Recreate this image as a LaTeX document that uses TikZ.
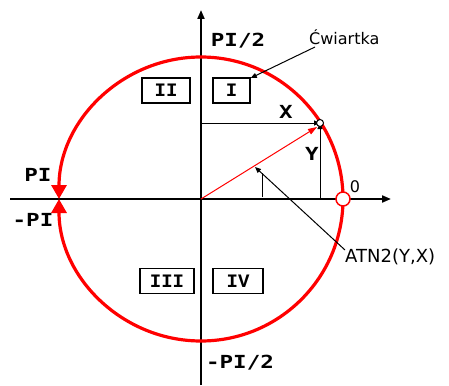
\documentclass[tikz,border=0pt]{standalone}
\usepackage{fontspec}
\usetikzlibrary{arrows.meta}
\setmainfont{DejaVu Sans}
\newfontfamily\lblfont[FakeStretch=1.25]{DejaVu Sans Mono Bold}
\newfontfamily\boxfont{Liberation Mono Bold}
\definecolor{cred}{RGB}{255,0,0}
\begin{document}
\begin{tikzpicture}[x=1pt,y=1pt,
  axis/.style={line width=2pt,-{Triangle[length=9pt,width=7pt]}},
  redarc/.style={cred,line width=3.2pt,-{Triangle[length=14pt,width=15pt]}},
  qbox/.style={draw,line width=1.4pt,minimum width=48pt,minimum height=25pt,inner sep=0pt,font=\boxfont\fontsize{19}{19}\selectfont},
  biglbl/.style={font=\lblfont\fontsize{18}{18}\selectfont,inner sep=0pt},
  thin/.style={line width=1pt},
  smalltip/.style={-{Triangle[length=6pt,width=5pt]}}]
\useasboundingbox (0,0) rectangle (449,-385);
\fill[white] (0,0) rectangle (449,-385);
% axes
\coordinate (O) at (201,-199);
\coordinate (xl) at (10,-199);
\coordinate (xr) at (391,-199);
\coordinate (yb) at (201,-385);
\coordinate (yt) at (201,-10);
\draw[axis] (xl) -- (xr);
\draw[axis] (yb) -- (yt);
% red circle arcs
\coordinate (zero) at (343,-199);
\draw[redarc] (zero) arc[start angle=0,end angle=180,radius=142];
\draw[redarc] (zero) arc[start angle=0,end angle=-180,radius=142];
\node[circle,draw=cred,fill=white,line width=1.5pt,minimum size=14pt,inner sep=0pt] (zc) at (zero) {};
% point on circle
\coordinate (P) at (320,-123);
\coordinate (Px) at (201,-123);
\coordinate (Py) at (320,-199);
\draw[thin,smalltip] (Px) -- (P);
\draw[thin,smalltip] (Py) -- (P);
\draw[cred,line width=1pt,-{Triangle[length=9pt,width=6pt]}] (O) -- (317,-127);
\node[circle,draw,fill=white,line width=1pt,minimum size=7pt,inner sep=0pt] (pt) at (P) {};
% angle mark
\coordinate (am1) at (262,-197);
\coordinate (am2) at (262,-173);
\draw[thin] (am1) -- (am2);
% boxes
\node[qbox] (b2) at (166,-90.5) {II};
\node[qbox,minimum width=37pt] (b1) at (231.5,-90.5) {I};
\node[qbox,minimum width=54pt] (b3) at (167,-281) {III};
\node[qbox,minimum width=50pt] (b4) at (238,-281) {IV};
% labels
\node[biglbl] (pi2) at (238,-41) {PI/2};
\node[biglbl] (pi) at (38,-175) {PI};
\node[biglbl] (mpi) at (33,-220) {-PI};
\node[biglbl] (mpi2) at (240,-363) {-PI/2};
\node[biglbl] (lx) at (286,-112) {X};
\node[biglbl] (ly) at (312,-154) {Y};
\node[font=\fontsize{16}{16}\selectfont,inner sep=0pt] (l0) at (355,-187) {0};
\node[font=\fontsize{16}{16}\selectfont,inner sep=0pt,anchor=west] (cw) at (309,-37) {Ćwiartka};
\node[font=\fontsize{18}{18}\selectfont,inner sep=0pt,anchor=west] (atn) at (345,-257) {ATN2(Y,X)};
% leaders
\coordinate (cwend) at (315,-47);
\coordinate (atnend) at (345,-250);
\draw[thin,smalltip] (cwend) -- (b1.east |- 0,-78);
\draw[thin,smalltip] (atnend) -- (255,-167);
\end{tikzpicture}
\end{document}
